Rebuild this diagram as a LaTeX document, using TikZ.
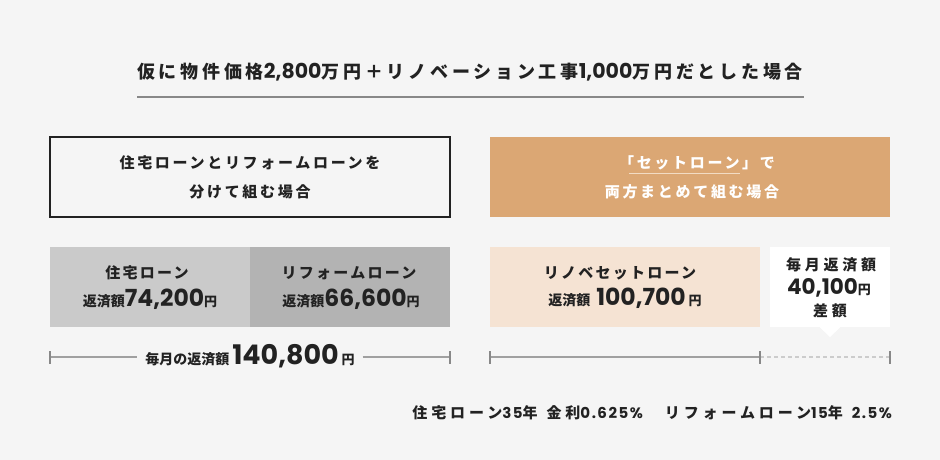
\documentclass[tikz,border=0pt]{standalone}
\usepackage{fontspec}
\newfontfamily\jp{Noto Sans CJK JP}
\newfontfamily\numf{Poppins}
\newcommand\fsz[1]{\fontsize{#1}{#1}\selectfont}
\newcommand\ls[1]{\addfontfeature{LetterSpace=#1}}
\definecolor{bgc}{HTML}{F5F5F5}
\definecolor{txt}{HTML}{222222}
\definecolor{orng}{HTML}{DBA774}
\definecolor{peach}{HTML}{F5E3D3}
\definecolor{gryA}{HTML}{CACACA}
\definecolor{gryB}{HTML}{B3B3B3}
\definecolor{tickc}{HTML}{888888}
\definecolor{solidc}{HTML}{A0A0A0}
\definecolor{dashc}{HTML}{CCCCCC}
\definecolor{ulc}{HTML}{F2DCC4}
\tikzset{
  lbl/.style={inner sep=0pt, outer sep=0pt, text=txt, font=\jp\bfseries},
  panel/.style={inner sep=0pt, outer sep=0pt, minimum width=#1, minimum height=80pt},
  tk/.style={draw=tickc, line width=2pt},
  scl/.style={draw=solidc, line width=1.2pt},
  dsh/.style={draw=dashc, line width=1.2pt, dash pattern=on 4pt off 3pt},
}
\begin{document}
\begin{tikzpicture}[x=1pt,y=-1pt]
\fill[bgc] (0,0) rectangle (940,460);
\useasboundingbox (0,0) rectangle (940,460);
% title
\node[lbl, anchor=base] (title) at (470,78) {\ls{21}\fsz{18}仮に物件価格{\numf\bfseries\fsz{20.5}2,800}万円＋リノベーション工事{\numf\bfseries\fsz{20.5}1,000}万円だとした場合};
\coordinate (t1) at (137,97);
\coordinate (t2) at (804,97);
\draw[draw=tickc, line width=2pt] (t1) -- (t2);
% heading boxes
\node[panel=400pt, draw=txt, line width=1.3pt, fill=bgc] (lbox) at (250,177) {};
\node[lbl] (lh1) at (250,163) {\ls{18}\fsz{15}住宅ローンとリフォームローンを};
\node[lbl] (lh2) at (250,192) {\ls{18}\fsz{15}分けて組む場合};
\node[panel=400pt, fill=orng] (rbox) at (690,177) {};
\node[lbl, text=white] (rh1) at (697,163) {\ls{18}\fsz{15}「セットローン」で};
\node[lbl, text=white] (rh2) at (692,192) {\ls{18}\fsz{15}両方まとめて組む場合};
\coordinate (u1) at (629,173.5);
\coordinate (u2) at (740,173.5);
\draw[draw=ulc, line width=1.5pt] (u1) -- (u2);
% left panels
\node[panel=200pt, fill=gryA] (ga) at (150,287) {};
\node[panel=200pt, fill=gryB] (gb) at (350,287) {};
\node[lbl] (ga1) at (147,273) {\ls{15}\fsz{15}住宅ローン};
\node[lbl, anchor=base] (ga2) at (150,306) {{\fsz{14}\jp 返済額}{\numf\bfseries\fsz{23.5}74,200}{\fsz{13}円}};
\node[lbl] (gb1) at (349,273) {\ls{15}\fsz{15}リフォームローン};
\node[lbl, anchor=base] (gb2) at (351,306) {{\fsz{14}\jp 返済額}{\numf\bfseries\fsz{23.5}66,600}{\fsz{13}円}};
% right panels
\node[panel=270pt, fill=peach] (pc) at (625,287) {};
\node[panel=120pt, fill=white] (cb) at (830,287) {};
\coordinate (p1) at (819,326.5);
\coordinate (p2) at (841,326.5);
\coordinate (p3) at (830,337);
\fill[white] (p1) -- (p3) -- (p2) -- cycle;
\node[lbl] (pc1) at (620,273) {\ls{15}\fsz{15}リノベセットローン};
\node[lbl, anchor=base] (pc2) at (625,305) {{\fsz{14}\jp 返済額}\hspace{6pt}{\numf\bfseries\fsz{23.5}100,700}\hspace{3pt}{\fsz{13}円}};
\node[lbl] (cb1) at (831,265) {\ls{25}\fsz{15}毎月返済額};
\node[lbl, anchor=base] (cb2) at (829,294) {{\numf\bfseries\fsz{21.5}40,100}{\fsz{13}円}};
\node[lbl] (cb3) at (830,311) {\ls{25}\fsz{15}差額};
% scale lines
\coordinate (la) at (50,357);
\coordinate (lb) at (450,357);
\node[lbl, anchor=base, inner xsep=8pt] (tot) at (250,364) {{\fsz{14}\jp 毎月の返済額}\hspace{3pt}{\numf\bfseries\fsz{27}140,800}\hspace{3pt}{\fsz{13}円}};
\draw[scl] (la) -- (tot.west |- la);
\draw[scl] (tot.east |- lb) -- (lb);
\draw[tk] ([yshift=-6.5pt]la) -- ([yshift=6.5pt]la);
\draw[tk] ([yshift=-6.5pt]lb) -- ([yshift=6.5pt]lb);
\coordinate (ra) at (490,357);
\coordinate (rm) at (760,357);
\coordinate (rb) at (890,357);
\draw[scl] (ra) -- (rm);
\draw[dsh] (rm) -- (rb);
\draw[tk] ([yshift=-6.5pt]ra) -- ([yshift=6.5pt]ra);
\draw[tk] ([yshift=-6.5pt]rm) -- ([yshift=6.5pt]rm);
\draw[tk] ([yshift=-6.5pt]rb) -- ([yshift=6.5pt]rb);
% footer
\node[lbl, anchor=base east] (foot) at (892,418) {\ls{26}\fsz{15}住宅ローン{\numf\ls{10}35}年\hspace{9pt}金利{\numf\ls{10}0.625\%}\hspace{22pt}リフォームローン{\numf\ls{10}15}年\hspace{9pt}{\numf\ls{10}2.5\%}};
\end{tikzpicture}
\end{document}
